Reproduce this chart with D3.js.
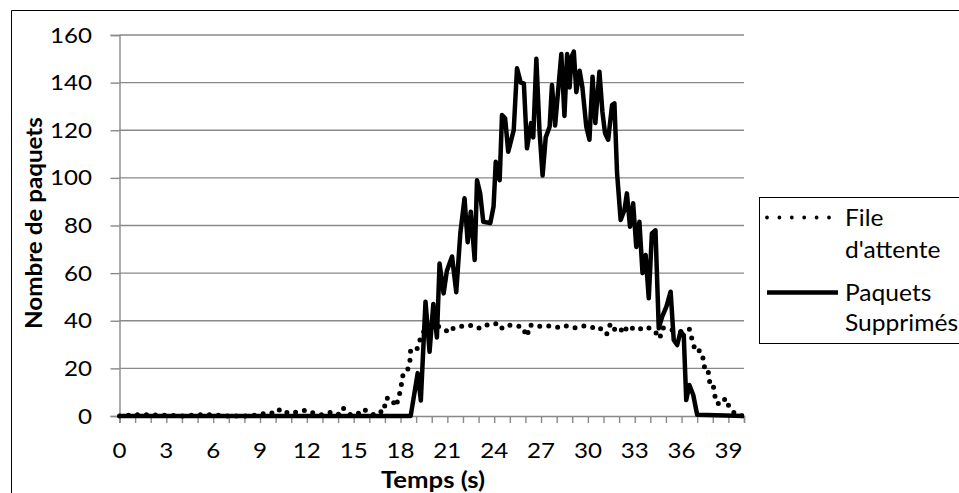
<!DOCTYPE html>
<html><head><meta charset="utf-8">
<script src="https://cdn.jsdelivr.net/npm/d3@7"></script>
<style>
body{margin:0;background:#fff}
text{font-family:Lato,"Carlito",sans-serif;fill:#000}
</style>
</head><body>
<svg id="chart" width="959" height="493"></svg>
<script>
// ---------- data ----------
const seriesNames = ["File d'attente", "Paquets Supprimés"];
const xTickLabels = [0,3,6,9,12,15,18,21,24,27,30,33,36,39];
const yTickLabels = [0,20,40,60,80,100,120,140,160];

const queueTime = [0,1,2,3,4,5,6,7,8,9,9.5,10,10.3,10.7,11,11.5,12,12.5,13,13.5,14,14.3,14.8,15.2,15.6,16,16.3,16.6,16.9,17.1,17.4,17.7,17.9,18.05,18.15,18.4,18.6,18.65,19.05,19.25,19.6,20.0,20.5,20.8,21.1,21.4,21.8,22.2,22.7,23.0,23.3,23.6,24.1,24.4,24.8,25.2,25.8,26.1,26.3,26.6,27.1,27.6,28.1,28.5,29.1,29.8,30.4,30.7,31.0,31.2,31.45,31.76,32.04,32.3,32.55,33.1,33.7,34.26,34.6,34.8,35.1,35.5,35.9,36.3,36.5,36.7,36.9,37.2,37.4,37.5,37.7,37.8,38,38.1,38.25,38.6,38.8,39.1,39.5,40];
const queueValue = [0,0.5,0.5,0.3,0,0.5,0.5,0,0,0.5,1.5,1,3,1.5,1,2,2.5,1,0.5,1.5,0.5,3.5,0.5,0.5,3,1.5,0.5,2,1.5,7.5,7.5,4,8,13,17,18,23,28,28,32,37,38,37.5,36.5,35,37,37.5,38,38,37,37,38.5,38.8,36.5,38.3,38,37.5,33.5,38.3,37.5,37.8,37.8,37.2,38,37,37.9,37,37.5,35.4,34.3,38.9,36,37,34.7,37.9,36,37.5,36,32.6,37,36.6,36,35.4,36,36.5,31.5,27,27.5,23.8,19,19,14.4,14.4,9.5,5.3,5,7.4,3.2,0.5,0];

const dropTime = [0,18.65,19.1,19.3,19.6,19.86,20.1,20.33,20.5,20.76,20.97,21.3,21.57,21.83,22.1,22.3,22.5,22.75,22.9,23.1,23.3,23.75,23.96,24.1,24.35,24.5,24.7,24.9,25.25,25.46,25.7,25.9,26.1,26.36,26.5,26.7,26.9,27.1,27.3,27.55,27.7,27.9,28.1,28.3,28.5,28.67,28.83,28.96,29.1,29.26,29.47,29.65,29.9,30.1,30.3,30.48,30.74,30.93,31.1,31.3,31.55,31.7,31.87,32.1,32.34,32.5,32.7,32.9,33.1,33.3,33.5,33.7,33.9,34.1,34.33,34.54,34.76,35.03,35.3,35.5,35.72,35.93,36.14,36.3,36.5,36.75,37.0,40];
const dropValue = [0,0,18,6.5,48,27,47,33,64,51.5,61,67,52,76.7,91.4,73,85.8,65.5,99,93.5,81.6,81,88,106.8,99,126.4,125,111,120,146,140,139.7,112.4,123,117,150,120,101,117,121.5,139,122,137,152,126,152,138,151,153,136,145,138,121.5,116,142.5,123,144.6,127.8,118.7,116,130.6,131.3,102,82.3,86.5,93.5,79.5,89.3,71,81.6,60,67.6,49.4,76.7,78,36.8,41.7,45.9,52.2,31.9,29.8,35.4,34,6.7,13,8.8,0.5,0];

// ---------- layout ----------
const svg = d3.select("#chart");
const x = d3.scaleLinear().domain([0,40]).range([119.5,744]);
const y = d3.scaleLinear().domain([0,160]).range([416,35]);
const gridColor = "#898989";

// helper: horizontally widened text (reference glyphs are wide)
function addText(g, tx, ty, str, size, sx, anchor, weight, rot){
  const t = g.append("text")
    .attr("transform", `translate(${tx},${ty})` + (rot ? ` rotate(${rot})` : "") + ` scale(${sx},1)`)
    .attr("text-anchor", anchor || "start")
    .style("font-size", size + "px")
    .text(str);
  if (weight) t.style("font-weight", weight);
  return t;
}

// outer chart border
svg.append("path").attr("d","M11.5,493 V10.5 H959").attr("fill","none").attr("stroke","#000").attr("stroke-width",1);

// gridlines
svg.append("g").selectAll("line").data(yTickLabels.filter(d=>d>0)).join("line")
  .attr("x1",x(0)).attr("x2",x(40)).attr("y1",d=>y(d)).attr("y2",d=>y(d))
  .attr("stroke",gridColor).attr("stroke-width",1.4);

// y axis
const yAxis = d3.axisLeft(y).tickValues(yTickLabels).tickSize(9).tickFormat("");
const gy = svg.append("g").attr("transform",`translate(${x(0)},0)`).call(yAxis);
gy.select(".domain").attr("stroke",gridColor).attr("stroke-width",1.4);
gy.selectAll(".tick line").attr("stroke",gridColor).attr("stroke-width",1.4);
const gyl = svg.append("g");
yTickLabels.forEach(d => addText(gyl, 92, y(d) + 7.5, d, 21, 1.15, "end"));

// x axis
const xAxis = d3.axisBottom(x).tickValues(d3.range(0,41,1)).tickSize(7).tickFormat("");
const gx = svg.append("g").attr("transform",`translate(0,${y(0)})`).call(xAxis);
gx.select(".domain").attr("stroke",gridColor).attr("stroke-width",1.4);
gx.selectAll(".tick line").attr("stroke",gridColor).attr("stroke-width",1.4);
const gxl = svg.append("g");
xTickLabels.forEach(d => addText(gxl, x(d), 457.5, d, 21, 1.15, "middle"));

// axis titles
addText(svg, 433, 487.5, "Temps (s)", 22, 1.17, "middle", "bold");
addText(svg, 41.5, 223, "Nombre de paquets", 22, 1.1, "middle", "bold", -90);

// series
const line = d3.line().x(d=>x(d[0])).y(d=>y(d[1]));
const queue = queueTime.map((t,i)=>[t,queueValue[i]]);
const drop = dropTime.map((t,i)=>[t,dropValue[i]]);

svg.append("path").datum(queue).attr("d",line).attr("fill","none")
  .attr("stroke","#000").attr("stroke-width",5).attr("stroke-linecap","round")
  .attr("stroke-dasharray","0 9");
svg.append("path").datum(drop).attr("d",line).attr("fill","none")
  .attr("stroke","#000").attr("stroke-width",4.5).attr("stroke-linejoin","round");

// legend
const lg = svg.append("g");
lg.append("rect").attr("x",759.5).attr("y",197.5).attr("width",220).attr("height",146)
  .attr("fill","#fff").attr("stroke","#000").attr("stroke-width",1);
lg.append("line").attr("x1",767).attr("x2",831).attr("y1",217.5).attr("y2",217.5)
  .attr("stroke","#000").attr("stroke-width",3.8).attr("stroke-linecap","round").attr("stroke-dasharray","0 12.4");
lg.append("line").attr("x1",767).attr("x2",838).attr("y1",292.5).attr("y2",292.5)
  .attr("stroke","#000").attr("stroke-width",4.5);
const legendLines = [["File",226],["d'attente",258.3],["Paquets",300.7],["Supprimés",330.7]];
legendLines.forEach(d => addText(lg, 845, d[1], d[0], 23, 1.07, "start"));
</script>
</body></html>
